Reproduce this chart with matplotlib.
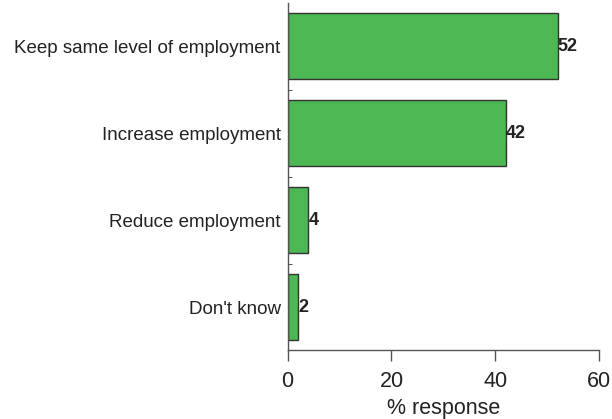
import matplotlib
matplotlib.use("Agg")
import matplotlib.pyplot as plt

plt.rcParams['font.family'] = ['Liberation Sans', 'DejaVu Sans']

categories = ["Keep same level of employment", "Increase employment",
              "Reduce employment", "Don't know"]
values = [52, 42, 4, 2]
xticks = [0, 20, 40, 60]

fig = plt.figure(figsize=(6.12, 4.19), dpi=100)
ax = fig.add_axes([0.470, 0.1635, 0.509, 0.8295])

pos = list(range(len(categories)))
ax.barh(pos, values, height=0.76, color='#4db853', edgecolor='#333333', linewidth=1)
for p, v in zip(pos, values):
    ax.text(v, p, str(v), va='center', ha='left', fontsize=13,
            fontweight='bold', color='#222222')

ax.set_ylim(3.5, -0.5)
ax.set_xlim(0, 60)
ax.set_yticks(pos)
ax.set_yticklabels(categories, fontsize=13.5, color='#222222')
ax.set_yticks([0.5, 1.5, 2.5], minor=True)
ax.tick_params(axis='y', which='major', length=0, pad=5)
ax.tick_params(axis='y', which='minor', length=3, direction='in', color='#333333')
ax.set_xticks(xticks)
ax.set_xticklabels([str(t) for t in xticks], fontsize=15.5, color='#222222')
ax.tick_params(axis='x', length=8, width=1, color='#555555', pad=7)
ax.set_xlabel('% response', fontsize=15.5, labelpad=4, color='#222222')

for s in ['top', 'right']:
    ax.spines[s].set_visible(False)
for s in ['left', 'bottom']:
    ax.spines[s].set_color('#555555')
    ax.spines[s].set_linewidth(1)

fig.savefig('out.png', dpi=100)
